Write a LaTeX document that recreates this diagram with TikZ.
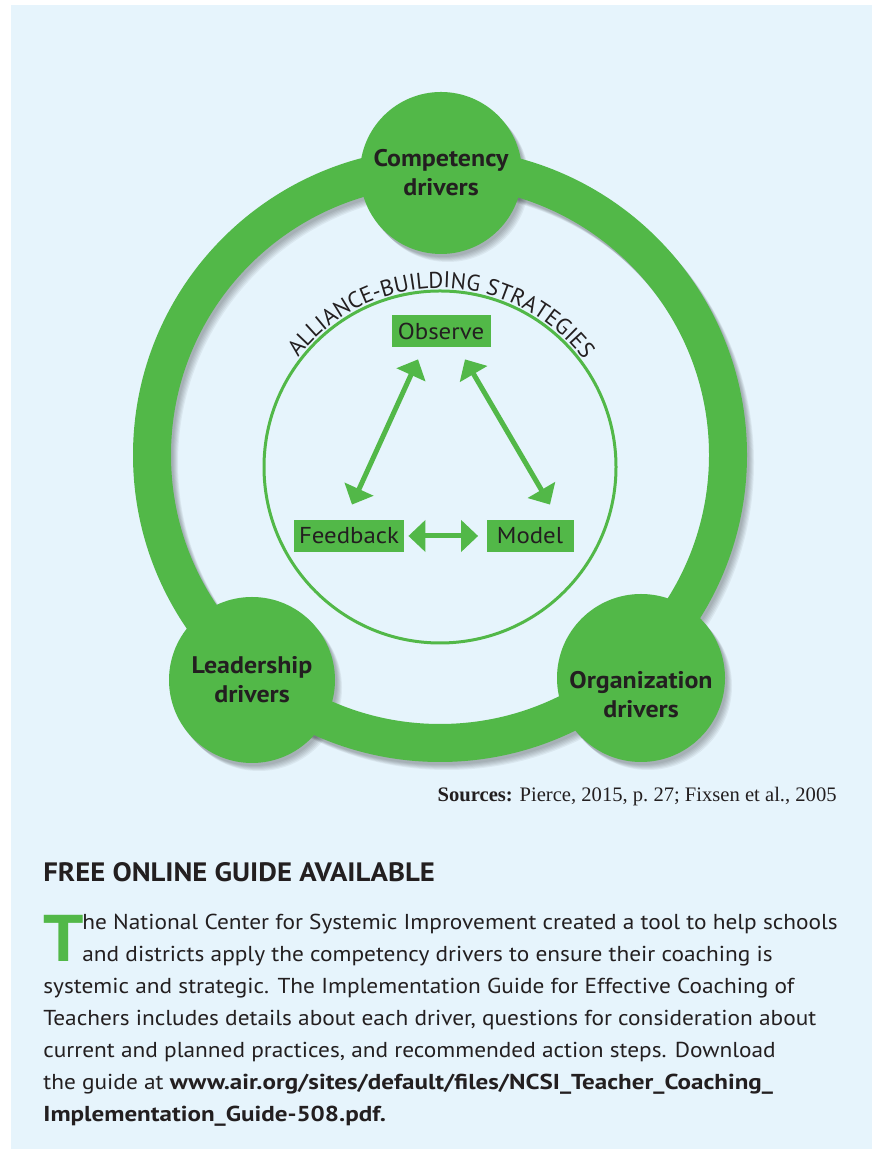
\documentclass[tikz,border=0pt]{standalone}
\usepackage{fontspec}
\setmainfont[FakeStretch=1.08]{PT Sans}
\newfontfamily\arcfont{PT Sans}
\newfontfamily\urlfont[FakeStretch=1.16]{PT Sans}
\newfontfamily\srcfont{Liberation Serif}
\usetikzlibrary{arrows.meta,decorations.text,positioning}

\definecolor{drvgreen}{RGB}{82,184,72}
\definecolor{panelblue}{RGB}{230,244,252}
\definecolor{inktext}{RGB}{35,31,32}

\begin{document}
\begin{tikzpicture}[x=0.5pt, y=0.5pt,
                    driver/.style={circle, fill=drvgreen, inner sep=0pt, align=center,
                                   text=inktext, font=\bfseries\fontsize{12}{14.5}\selectfont},
                    strat/.style={fill=drvgreen, inner sep=0pt, minimum height=16pt,
                                  text=inktext, font=\fontsize{11.5}{12}\selectfont},
                    dbl/.style={{Triangle[length=8.5pt,width=15.5pt]}-{Triangle[length=8.5pt,width=15.5pt]},
                                draw=drvgreen, line width=2.5pt}]
    \useasboundingbox (0,0) rectangle (872,1149);
    \fill[panelblue] (11,0) rectangle (872,1144);

    % centres of the ring and the three driver circles
    \coordinate (ring) at (440,694);
    \coordinate (cpos) at (441,976);
    \coordinate (lpos) at (252,469);
    \coordinate (opos) at (641,471);
    \coordinate (inner) at (440,682);

    % soft shadow under ring and circles
    \foreach \d in {2,...,7} {
        \draw[black, opacity=0.05, line width=19pt] ([shift={(\d,-\d-1)}]ring) circle[radius=288];
        \fill[black, opacity=0.05] ([shift={(\d,-\d-1)}]cpos) circle[radius=81];
        \fill[black, opacity=0.05] ([shift={(\d,-\d-1)}]lpos) circle[radius=83];
        \fill[black, opacity=0.05] ([shift={(\d,-\d-1)}]opos) circle[radius=84];
    }
    \draw[drvgreen, line width=19pt] (ring) circle[radius=288];

    \node[driver, minimum size=81pt] (comp) at (cpos) {Competency\\drivers};
    \node[driver, minimum size=83pt] (lead) at (lpos) {Leadership\\drivers};
    \node[driver, minimum size=84pt] (org) at (opos) {};
    \node[driver, fill=none] (orgtxt) at ([yshift=-8.5pt]org.center) {Organization\\drivers};

    % alliance-building circle with its title on top
    \draw[drvgreen, line width=1.5pt] (inner) circle[radius=176];
    \path[decorate, decoration={text along path, text align=center, text color=inktext,
          text={|\arcfont\fontsize{11.4}{11.4}\selectfont|ALLIANCE-BUILDING STRATEGIES}}]
        ([shift={(152:179)}]inner) arc[start angle=152, end angle=27, radius=179];

    \node[strat, minimum width=49.5pt] (obs) at (441,818) {Observe};
    \node[strat, minimum width=55pt]   (fb)  at (349,613) {Feedback};
    \node[strat, minimum width=43.5pt] (mod) at (530,613) {Model};

    \draw[dbl] ([shift={(-11.5pt,-6pt)}]obs.south) -- ([shift={(1.5pt,7.5pt)}]fb.north);
    \draw[dbl] ([shift={(12pt,-6pt)}]obs.south) -- ([shift={(10pt,7.5pt)}]mod.north);
    \draw[dbl] ([xshift=2pt]fb.east) -- ([xshift=-4pt]mod.west);

    \node[anchor=base east, inner sep=0pt, text=inktext, font=\srcfont\fontsize{10.3}{10.3}\selectfont]
        (src) at (837,347) {\textbf{Sources:} Pierce, 2015, p.~27; Fixsen et al., 2005};

    % guide box text
    \node[anchor=base west, inner sep=0pt, text=inktext, font=\bfseries\fontsize{13.3}{13.3}\selectfont]
        (head) at (43,267) {FREE ONLINE GUIDE AVAILABLE};
    \node[anchor=base west, inner sep=0pt, text=drvgreen, font=\bfseries\fontsize{33}{33}\selectfont]
        (cap) at (43,187) {T};
    \node[anchor=base west, inner sep=0pt, align=left, text=inktext, font=\fontsize{10.8}{16}\selectfont]
        (body) at (43,27) {\hspace*{19.5pt}he National Center for Systemic Improvement created a tool to help schools\\
        \hspace*{19.5pt}and districts apply the competency drivers to ensure their coaching is\\
        systemic and strategic. The Implementation Guide for Effective Coaching of\\
        Teachers includes details about each driver, questions for consideration about\\
        current and planned practices, and recommended action steps. Download\\
        the guide at {\urlfont\bfseries www.air.org/sites/default/files/NCSI\_Teacher\_Coaching\_}\\
        {\urlfont\bfseries Implementation\_Guide-508.pdf.}};
\end{tikzpicture}
\end{document}
